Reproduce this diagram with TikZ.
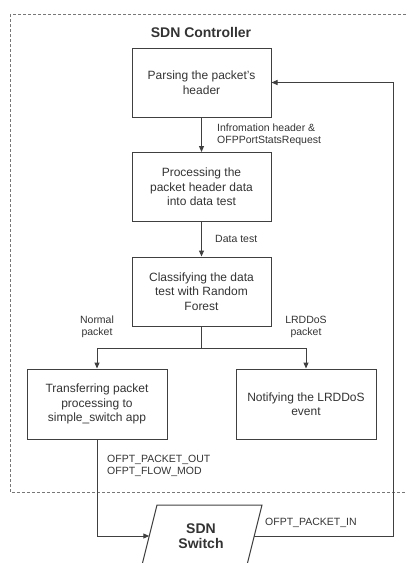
\documentclass[tikz,border=0pt]{standalone}
\usepackage{fontspec}
\setmainfont{Liberation Sans}
\usetikzlibrary{arrows.meta}
\definecolor{ln}{HTML}{404040}
\definecolor{tx}{HTML}{333333}
\definecolor{dashc}{HTML}{777777}
\begin{document}
\begin{tikzpicture}[x=1pt,y=-1pt,
  stepbox/.style={draw=ln, line width=1pt, minimum width=139pt, minimum height=69pt,
    align=center, text=tx, font=\fontsize{12}{14.5}\selectfont, inner sep=0pt},
  lbl/.style={text=tx, font=\fontsize{10.5}{12.5}\selectfont, inner sep=0pt},
  conn/.style={draw=ln, line width=1pt, -{Triangle[length=6pt,width=5pt]}},
  ]
\useasboundingbox (0,0) rectangle (407,563);
% controller frame
\draw[draw=dashc, line width=0.9pt, dash pattern=on 3pt off 2pt] (10,14) rectangle (415,492);
\node[text=tx, font=\fontsize{14}{16}\selectfont\bfseries] (title) at (201,32) {SDN Controller};
% boxes
\node[stepbox] (b1) at (201.5,82.5) {Parsing the packet's\\header};
\node[stepbox] (b2) at (201.5,187) {Processing the\\packet header data\\into data test};
\node[stepbox] (b3) at (201.5,291.5) {Classifying the data\\test with Random\\Forest};
\node[stepbox, minimum width=140pt, minimum height=70pt] (b4) at (97,404) {Transferring packet\\processing to\\simple\_switch app};
\node[stepbox, minimum width=140pt, minimum height=70pt] (b5) at (306,404) {Notifying the LRDDoS\\event};
% switch
\draw[ln, line width=1pt] (157,505) -- (262,505) -- (246.5,567) -- (141.5,567) -- cycle;
\node[text=tx, align=center, font=\fontsize{14}{15}\selectfont\bfseries] (sw) at (201,536) {SDN\\Switch};
\coordinate (swl) at (149.25,536);
\coordinate (swr) at (254.25,536);
\coordinate (rc) at (393,536);
% labels
\node[lbl, anchor=west, align=left] (l1) at (217,135) {Infromation header \&\\OFPPortStatsRequest};
\node[lbl, anchor=west] (l2) at (215,239) {Data test};
\node[lbl, align=center] (l3) at (97,327) {Normal\\packet};
\node[lbl, align=center] (l4) at (306,327) {LRDDoS\\packet};
\node[lbl, anchor=west, align=left] (l5) at (107,466) {OFPT\_PACKET\_OUT\\OFPT\_FLOW\_MOD};
\node[lbl, anchor=west] (l6) at (265,523) {OFPT\_PACKET\_IN};
% connectors
\draw[conn] (b1) -- (b2);
\draw[conn] (b2) -- (b3);
\draw[conn] (b3.south) -- ++(0,22) -| (b4.north);
\draw[conn] (b3.south) -- ++(0,22) -| (b5.north);
\draw[conn] (b4.south) |- (swl);
\draw[conn] (swr) -- (rc) |- (b1.east);
\end{tikzpicture}
\end{document}
